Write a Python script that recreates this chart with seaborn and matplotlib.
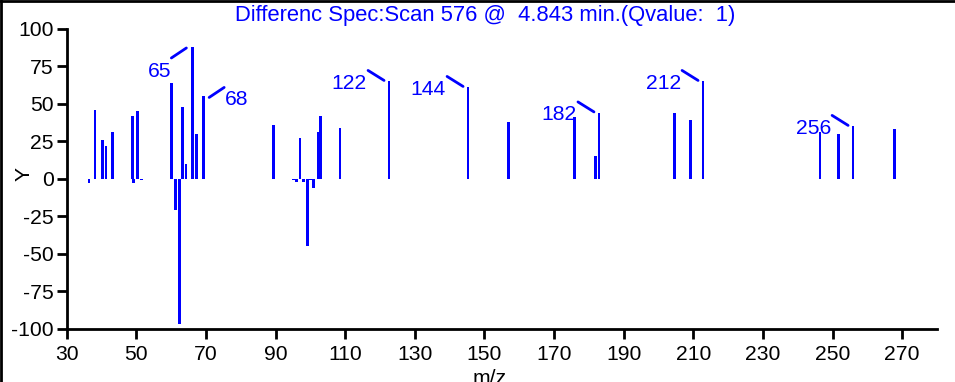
import matplotlib
matplotlib.use("Agg")
import matplotlib.pyplot as plt
from matplotlib.lines import Line2D
from matplotlib.transforms import offset_copy
import seaborn as sns
import pandas as pd

# ---- data ----
mz = [36.4, 38.1, 40.3, 41.3, 43.1, 48.9, 49.2, 50.3, 51.4,
      60.2, 61.2, 62.3, 63.2, 64.3, 66.1, 67.2, 69.2,
      89.3, 95.1, 96.1, 97.0, 98.1, 99.1, 100.1, 101.0, 102.2, 103.0, 108.5,
      122.6, 145.3, 157.0, 175.8, 181.9, 182.9,
      204.7, 209.1, 212.8, 246.4, 251.7, 255.9, 267.7]
intensity = [-3, 46, 26, 22, 31, 42, -3, 45, -1,
             64, -21, -97, 48, 10, 88, 30, 55,
             36, -1, -2, 27, -2, -45, -1, -6, 31, 42, 34,
             65, 61, 38, 41, 15, 44,
             44, 39, 65, 31, 30, 35, 33]

label_text = ["65", "68", "122", "144", "182", "212", "256"]
label_mz = [66.1, 69.2, 122.6, 145.3, 182.9, 212.8, 255.9]
label_val = [88, 55, 65, 61, 44, 65, 35]
label_side = ["below_left", "right", "left", "left", "left", "left", "left"]

x_ticks = [30, 50, 70, 90, 110, 130, 150, 170, 190, 210, 230, 250, 270]
y_ticks = [100, 75, 50, 25, 0, -25, -50, -75, -100]
title = "Differenc Spec:Scan 576 @  4.843 min.(Qvalue:  1)"

BLUE = "#0000ff"
FS = 15.2
FS_TITLE = 15.8

sns.set_theme(style="ticks")
plt.rcParams["font.family"] = ["Liberation Sans", "DejaVu Sans"]
plt.rcParams["axes.unicode_minus"] = False

fig = plt.figure(figsize=(9.55, 3.82), dpi=100)
ax = fig.add_axes([66.7 / 955, 1 - 328.7 / 382, (937 - 66.7) / 955, (328.7 - 29) / 382])

df = pd.DataFrame({"mz": mz, "intensity": intensity})
sns.barplot(data=df, x="mz", y="intensity", native_scale=True, color=BLUE,
            saturation=1, errorbar=None, linewidth=0, ax=ax)
bar_w = 0.8
for p in ax.patches:
    c = p.get_x() + p.get_width() / 2
    p.set_width(bar_w)
    p.set_x(c - bar_w / 2)
    p.set_facecolor(BLUE)
    p.set_edgecolor("none")

ax.set_xlim(30, 280)
ax.set_ylim(-100, 100)
ax.set_xticks(x_ticks)
ax.set_xticklabels([str(t) for t in x_ticks])
ax.set_yticks(y_ticks)
ax.set_yticklabels([str(t) for t in y_ticks])

sns.despine(ax=ax, top=True, right=True)
for s in ("left", "bottom"):
    ax.spines[s].set_linewidth(2.0)
    ax.spines[s].set_color("black")
ax.tick_params(axis="both", direction="out", length=7.2, width=2.0,
               colors="black", labelsize=FS)
ax.tick_params(axis="x", pad=4.5)
ax.tick_params(axis="y", pad=2.0)
ax.set_xlabel("")
ax.set_ylabel("")
ax.grid(False)

# axis labels & title
fig.text(490 / 955, 1 - 369 / 382, "m/z", ha="center", va="top", fontsize=FS, color="black")
fig.text(24 / 955, 1 - 174 / 382, "Y", ha="center", va="center", rotation=90,
         fontsize=FS, color="black")
fig.text(485 / 955, 1 - 16 / 382, title, ha="center", va="center", fontsize=FS_TITLE, color=BLUE)

# peak labels with leader lines (offsets in pixels)
for txt, x, v, side in zip(label_text, label_mz, label_val, label_side):
    if side == "left":
        p0, p1, tp, ha = (-21, 11), (-5, 1), (-22, -2), "right"
    elif side == "below_left":
        p0, p1, tp, ha = (-21, -11), (-6, -1), (-21, -25), "right"
    else:
        p0, p1, tp, ha = (6, -1), (21, 9), (22, -3), "left"
    t0 = offset_copy(ax.transData, fig=fig, x=p0[0], y=p0[1], units="dots")
    t1 = offset_copy(ax.transData, fig=fig, x=p1[0], y=p1[1], units="dots")
    ax.annotate("", xy=(x, v), xycoords=t1, xytext=(x, v), textcoords=t0,
                arrowprops=dict(arrowstyle="-", color=BLUE, lw=2.0,
                                shrinkA=0, shrinkB=0), annotation_clip=False)
    ax.annotate(txt, xy=(x, v), xycoords="data", xytext=tp,
                textcoords="offset pixels", ha=ha, va="center",
                fontsize=FS, color=BLUE, annotation_clip=False)

# figure border (left and top)
fig.add_artist(Line2D([1.4 / 955, 1.4 / 955], [0, 1], transform=fig.transFigure,
                      color="black", lw=2.0))
fig.add_artist(Line2D([0, 1], [1 - 1.4 / 382, 1 - 1.4 / 382], transform=fig.transFigure,
                      color="black", lw=2.0))

fig.savefig("out.png", dpi=100)
